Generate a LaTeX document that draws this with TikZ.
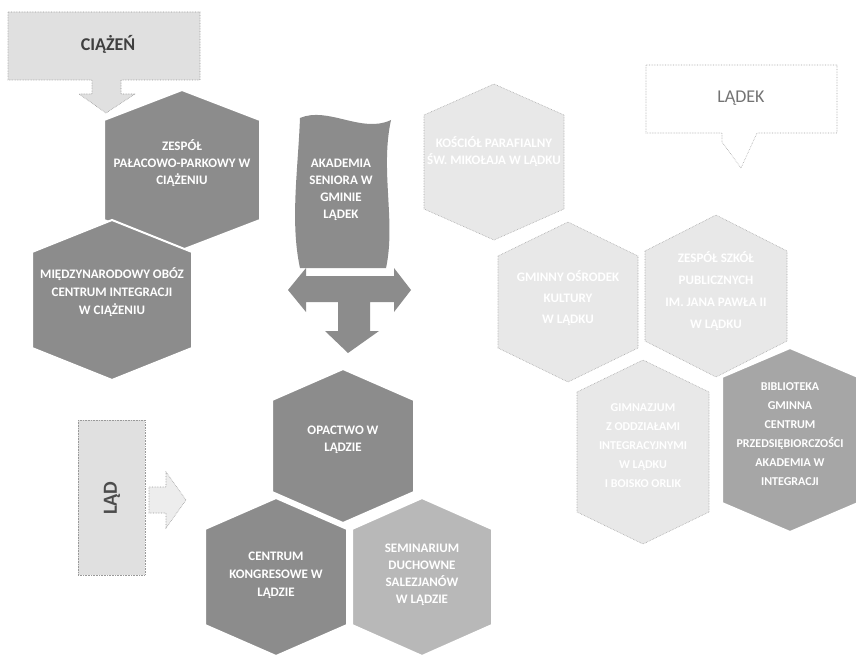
\documentclass[tikz,border=0pt]{standalone}
\usepackage{fontspec}
\setmainfont{Carlito}

\begin{document}
\begin{tikzpicture}[x=1pt,y=-1pt,
  hexdark/.style={fill=black!45,draw=white,line width=2pt},
  hexmid/.style={fill=black!35,draw=white,line width=2pt},
  hexsoft/.style={fill=black!28,draw=white,line width=2pt},
  hexlight/.style={fill=black!9,draw=black!35,densely dotted,line width=0.6pt},
  hextext/.style={align=center,text=white,font=\bfseries\fontsize{13}{17}\selectfont},
  smalltext/.style={hextext,font=\bfseries\fontsize{12}{19}\selectfont},
  callbox/.style={fill=black!12,draw=black!40,densely dotted,line width=0.6pt}]
\useasboundingbox (0,0) rectangle (856,655);
\fill[white] (0,0) rectangle (856,655);
\draw[callbox] (8,12) -- (200,12) -- (200,80) -- (121,80) -- (121,94) -- (135,94) -- (106,113)
  -- (79,94) -- (92,94) -- (92,80) -- (8,80) -- cycle;
\node[font=\bfseries\fontsize{18}{20}\selectfont,text=black!75] (ciazen) at (108,44) {CIĄŻEŃ};
\draw[fill=white,draw=black!35,densely dotted,line width=0.6pt] (646,65) -- (837,65) -- (837,133)
  -- (757,133) -- (741,168) -- (722,142) -- (722,133) -- (646,133) -- cycle;
\node[font=\fontsize{18}{20}\selectfont,text=black!55] (ladek) at (741,98) {LĄDEK};
\draw[callbox] (78,420) rectangle (145,575);
\node[rotate=90,font=\bfseries\fontsize{20}{22}\selectfont,text=black!70] (lad) at (112,498) {LĄD};
\draw[fill=black!7,draw=black!40,densely dotted,line width=0.6pt] (149,487) -- (166,487) -- (166,472)
  -- (186,500) -- (166,528) -- (166,513) -- (149,513) -- cycle;
\foreach \cx/\cy/\hw/\hh/\hs/\st in {182/170/78/80/50/hexdark,112/300/80/80/48/hexdark,
  494/162/70/78/47/hexlight,568/302/70/80/46/hexlight,716/296/71/81/45/hexlight,
  643/452/66/92/60/hexlight,790/440/68/92/63/hexmid,
  343/446/71/77/46/hexdark,276/577/71/79/48/hexdark,422/577/70/79/48/hexsoft}
  \draw[\st] (\cx-\hw,\cy-\hs) -- (\cx,\cy-\hh) -- (\cx+\hw,\cy-\hs) -- (\cx+\hw,\cy+\hs)
    -- (\cx,\cy+\hh) -- (\cx-\hw,\cy+\hs) -- cycle;
\fill[black!45] (300,118) .. controls (328,106) and (362,134) .. (391,120)
  .. controls (380,170) and (396,222) .. (386,268) -- (300,268)
  .. controls (290,222) and (298,170) .. (300,118) -- cycle;
\fill[black!45] (288,290) -- (306,268) -- (306,276) -- (394,276) -- (394,268) -- (411,290)
  -- (394,312) -- (394,302) -- (370,302) -- (370,331) -- (379,331) -- (348,353)
  -- (325,331) -- (338,331) -- (338,302) -- (306,302) -- (306,312) -- cycle;
\draw[white,line width=3pt] (311,271) -- (392,271);
\node[hextext] (akademia) at (341,190) {AKADEMIA\\SENIORA W\\GMINIE\\LĄDEK};
\node[hextext] (zespol) at (182,163) {ZESPÓŁ\\PAŁACOWO-PARKOWY W\\CIĄŻENIU};
\node[hextext,font=\bfseries\fontsize{13}{18}\selectfont] (centrum) at (112,292) {MIĘDZYNARODOWY OBÓZ\\CENTRUM INTEGRACJI\\W CIĄŻENIU};
\node[hextext] (kosciol) at (494,152) {KOŚCIÓŁ PARAFIALNY\\ŚW. MIKOŁAJA W LĄDKU};
\node[hextext,font=\bfseries\fontsize{13}{21}\selectfont] (gok) at (568,298) {GMINNY OŚRODEK\\KULTURY\\W LĄDKU};
\node[hextext,font=\bfseries\fontsize{13}{22}\selectfont] (szkola) at (716,291) {ZESPÓŁ SZKÓŁ\\PUBLICZNYCH\\IM. JANA PAWŁA II\\W LĄDKU};
\node[smalltext] (gimn) at (643,446) {GIMNAZJUM\\Z ODDZIAŁAMI\\INTEGRACYJNYMI\\W LĄDKU\\I BOISKO ORLIK};
\node[smalltext] (biblio) at (790,434) {BIBLIOTEKA\\GMINNA\\CENTRUM\\PRZEDSIĘBIORCZOŚCI\\AKADEMIA W\\INTEGRACJI};
\node[hextext] (opactwo) at (343,440) {OPACTWO W\\LĄDZIE};
\node[hextext,font=\bfseries\fontsize{13}{18}\selectfont] (kongres) at (276,575) {CENTRUM\\KONGRESOWE W\\LĄDZIE};
\node[hextext,font=\bfseries\fontsize{13}{17}\selectfont] (seminar) at (422,575) {SEMINARIUM\\DUCHOWNE\\SALEZJANÓW\\W LĄDZIE};
\end{tikzpicture}
\end{document}
